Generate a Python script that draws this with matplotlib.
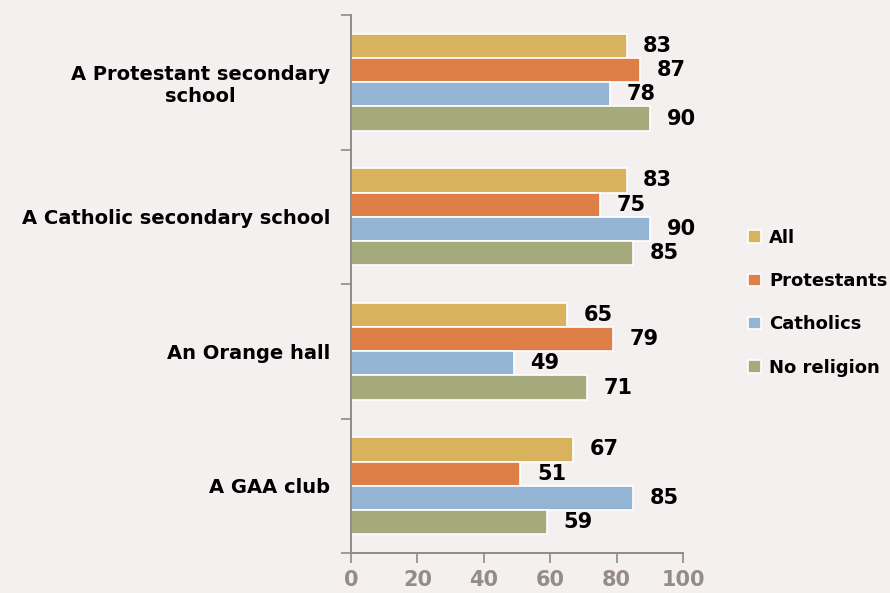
import matplotlib.pyplot as plt
import numpy as np

categories = ["A Protestant secondary\nschool", "A Catholic secondary school",
              "An Orange hall", "A GAA club"]
series = ["All", "Protestants", "Catholics", "No religion"]
all_vals = [83, 83, 65, 67]
protestants = [87, 75, 79, 51]
catholics = [78, 90, 49, 85]
no_religion = [90, 85, 71, 59]
xticks = [0, 20, 40, 60, 80, 100]

values = [all_vals, protestants, catholics, no_religion]
colors = ["#d9b25e", "#de7f48", "#93b5d3", "#a5aa7d"]
bg = "#f4f0ef"

plt.rcParams['font.family'] = ['DejaVu Sans']

fig = plt.figure(figsize=(8.9, 5.93), dpi=100, facecolor=bg)
ax = fig.add_axes([351 / 890, 1 - 553 / 593, (683 - 351) / 890, (553 - 15) / 593])
ax.set_facecolor(bg)

n = len(categories)
h = 0.18
y = np.arange(n)
for i, (s, vals, c) in enumerate(zip(series, values, colors)):
    pos = y - 1.5 * h + i * h
    ax.barh(pos, vals, height=h, color=c, edgecolor="white", linewidth=1.2, label=s)
    for p, v in zip(pos, vals):
        ax.text(v + 5, p, str(v), va="center", ha="left", fontsize=15,
                fontweight="bold", color="black")

ax.set_xlim(0, 100)
ax.set_ylim(n - 0.5, -0.5)
ax.set_xticks(xticks)
ax.set_xticklabels([str(t) for t in xticks], fontsize=15, fontweight="bold", color="#958b8a")
ax.set_yticks(np.arange(n + 1) - 0.5, minor=False)
ax.set_yticklabels([])
ax.set_yticks(y, minor=True)
ax.set_yticklabels(categories, minor=True, fontsize=14, fontweight="bold",
                   ha="right", multialignment="center")
ax.tick_params(axis="y", which="minor", length=0, pad=15)
ax.tick_params(axis="y", which="major", length=7, color="#8c8c8c", width=1.2)
ax.tick_params(axis="x", length=7, color="#8c8c8c", width=1.2, pad=5)

for side in ["top", "right"]:
    ax.spines[side].set_visible(False)
for side in ["left", "bottom"]:
    ax.spines[side].set_color("#8c8c8c")
    ax.spines[side].set_linewidth(1.4)

leg = ax.legend(loc="center left", bbox_to_anchor=(1.17, 0.465), frameon=False,
                prop={"size": 13, "weight": "bold"}, handlelength=0.7, handleheight=0.7,
                handletextpad=0.45, labelspacing=1.4, borderpad=0)

fig.savefig("out.png", dpi=100, facecolor=bg)
